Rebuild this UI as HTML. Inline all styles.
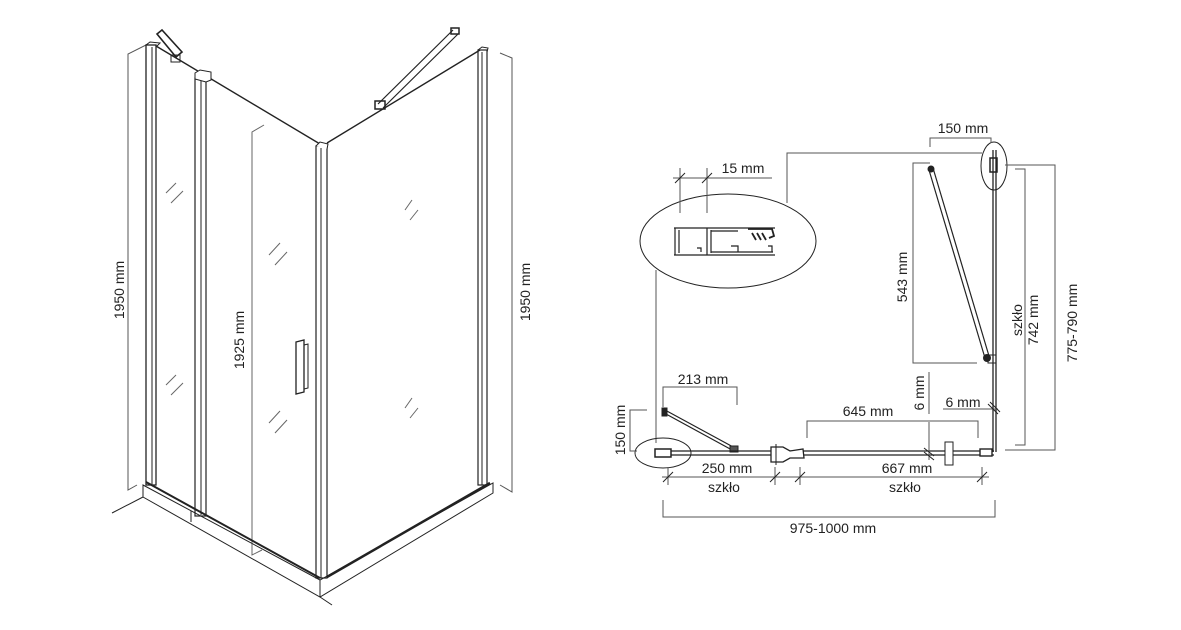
<!DOCTYPE html>
<html><head><meta charset="utf-8"><style>
html,body{margin:0;padding:0;background:#fff;width:1181px;height:630px;overflow:hidden}
text{font-family:"Liberation Sans",sans-serif;font-size:14px;fill:#222}
</style></head><body>
<svg width="1181" height="630" viewBox="0 0 1181 630" xmlns="http://www.w3.org/2000/svg">
<g stroke="#222" fill="none" stroke-width="1">
<!-- LEFT 3D drawing -->
<!-- left dim -->
<polyline points="148,44 128,54 128,490 137,485" stroke="#555"/>
<text x="0" y="0" transform="translate(124,290) rotate(-90)" text-anchor="middle" stroke="none">1950 mm</text>
<!-- left post -->
<rect x="146" y="45" width="10" height="440" stroke-width="1.3"/>
<line x1="152" y1="47" x2="152" y2="485"/>
<path d="M146,45 L150,42 L160,43 L156,47" />
<!-- hinge bracket -->
<path d="M157,34 L162,30 L182,52 L176,57 Z" stroke-width="1.6"/>
<rect x="171" y="55" width="9" height="7"/>
<!-- top rail left panel -->
<line x1="156" y1="46" x2="320" y2="144" stroke-width="1.4"/>
<!-- second post -->
<rect x="195" y="78" width="11" height="438" stroke-width="1.2"/>
<line x1="201" y1="80" x2="201" y2="515"/>
<path d="M195,73 L200,70 L211,72 L211,80 L206,82 L195,79 Z" fill="#fff"/>
<!-- 1925 dim -->
<polyline points="264,125 252,132 252,555 262,550" stroke="#666"/>
<text transform="translate(244,340) rotate(-90)" text-anchor="middle" stroke="none">1925 mm</text>
<!-- corner post -->
<rect x="316" y="146" width="11" height="432" stroke-width="1.2"/>
<line x1="321" y1="148" x2="321" y2="578"/>
<path d="M316,146 L320,142 L328,144 L327,149" fill="#fff"/>
<!-- right panel top -->
<line x1="327" y1="143" x2="480" y2="50" stroke-width="1.4"/>
<!-- right strut -->
<line x1="378" y1="104" x2="453" y2="30" stroke-width="1.2"/>
<line x1="383" y1="108" x2="458" y2="34" stroke-width="1.2"/>
<rect x="375" y="101" width="10" height="8" stroke-width="1.5"/>
<rect x="451" y="28" width="8" height="6" stroke-width="1.5"/>
<!-- right post -->
<rect x="478" y="50" width="9" height="435" stroke-width="1.2"/>
<line x1="482" y1="52" x2="482" y2="485"/>
<path d="M478,50 L482,47 L488,48 L487,52"/>
<!-- right dim -->
<polyline points="500,53 512,58 512,492 500,485" stroke="#555"/>
<text transform="translate(530,292) rotate(-90)" text-anchor="middle" stroke="none">1950 mm</text>
<!-- handle -->
<path d="M296,342 L304,340 L304,392 L296,394 Z" stroke-width="1.3"/>
<path d="M304,345 L308,344 L308,388 L304,389"/>
<!-- tray -->
<path d="M143,485 L320,580 L493,483 L493,493 L320,597 L143,497 Z"/>
<line x1="320" y1="580" x2="320" y2="597"/>
<line x1="191" y1="511" x2="191" y2="522"/>
<line x1="146" y1="482" x2="320" y2="578" stroke-width="2"/>
<line x1="327" y1="577" x2="490" y2="483" stroke-width="2.5"/>
<line x1="112" y1="513" x2="143" y2="497"/>
<line x1="320" y1="597" x2="332" y2="605"/>
<!-- glass hatch -->
<g stroke="#666">
<line x1="166" y1="193" x2="176" y2="183"/><line x1="171" y1="203" x2="183" y2="191"/>
<line x1="166" y1="385" x2="176" y2="375"/><line x1="171" y1="395" x2="183" y2="383"/>
<line x1="269" y1="255" x2="280" y2="243"/><line x1="275" y1="265" x2="287" y2="252"/>
<line x1="269" y1="423" x2="280" y2="411"/><line x1="275" y1="433" x2="287" y2="420"/>
<line x1="405" y1="210" x2="412" y2="200"/><line x1="410" y1="220" x2="418" y2="210"/>
<line x1="405" y1="408" x2="412" y2="398"/><line x1="410" y1="418" x2="418" y2="408"/>
</g>

<!-- RIGHT PLAN -->
<ellipse cx="728" cy="241" rx="88" ry="47"/>
<polyline points="787,203 787,153 982,153" stroke="#555"/>
<ellipse cx="994" cy="166" rx="13" ry="24"/>
<polyline points="930,147 930,138 991,138 991,143" stroke="#555"/>
<text x="963" y="133" text-anchor="middle" stroke="none">150 mm</text>
<!-- right wall glass -->
<line x1="993" y1="150" x2="993" y2="452" stroke-width="1.3"/>
<line x1="996" y1="150" x2="996" y2="452" stroke-width="1.3"/>
<rect x="990" y="158" width="7" height="14" stroke-width="1.5"/>
<!-- 15 mm -->
<line x1="680" y1="168" x2="680" y2="213" stroke="#555"/>
<line x1="707" y1="168" x2="707" y2="213" stroke="#555"/>
<line x1="673" y1="178" x2="772" y2="178" stroke="#555"/>
<line x1="675" y1="183" x2="685" y2="173"/><line x1="702" y1="183" x2="712" y2="173"/>
<text x="743" y="173" text-anchor="middle" stroke="none">15 mm</text>
<!-- profile -->
<path d="M674,228 L775,228 M674,255 L775,255 M675,228 L675,255 M679,230 L679,253 M707,228 L707,255 M711,230 L711,253 M711,231 L738,231 M711,252 L773,252 M697,248 L701,248 L701,252 M731,246 L738,246 L738,252 M768,246 L772,246 L772,252" stroke-width="1.2"/>
<path d="M748,229 L772,229 L774,236 L769,238 M752,233 L756,240 M757,233 L761,240 M762,233 L766,240" stroke-width="1.8"/>
<!-- left connector -->
<line x1="656" y1="270" x2="656" y2="443" stroke="#555"/>
<ellipse cx="663" cy="453" rx="28" ry="15"/>
<!-- 150 left -->
<polyline points="647,410 630,410 630,451 637,451" stroke="#555"/>
<text transform="translate(625,430) rotate(-90)" text-anchor="middle" stroke="none">150 mm</text>
<!-- 213 -->
<polyline points="663,407 663,387 737,387 737,405" stroke="#555"/>
<text x="703" y="384" text-anchor="middle" stroke="none">213 mm</text>
<line x1="665" y1="410" x2="735" y2="448" stroke-width="1.2"/>
<line x1="666" y1="414" x2="732" y2="450" stroke-width="1.2"/>
<rect x="662" y="408" width="5" height="8" fill="#222"/>
<rect x="730" y="446" width="8" height="6" fill="#555"/>
<!-- main bottom glass -->
<line x1="657" y1="451" x2="994" y2="451" stroke-width="1.3"/>
<line x1="657" y1="455" x2="994" y2="455" stroke-width="1.3"/>
<rect x="655" y="449" width="16" height="8" fill="#fff" stroke-width="1.5"/>
<path d="M771,447 L783,447 L790,451 L803,449 L804,458 L790,458 L783,462 L771,462 Z" fill="#fff" stroke-width="1.3"/>
<line x1="776" y1="444" x2="776" y2="465"/>
<rect x="945" y="442" width="8" height="23" fill="#fff"/>
<rect x="980" y="449" width="12" height="7" fill="#fff" stroke-width="1.4"/>
<!-- 645 -->
<polyline points="807,438 807,421 978,421 978,438" stroke="#555"/>
<text x="868" y="416" text-anchor="middle" stroke="none">645 mm</text>
<!-- 6mm vertical -->
<line x1="929" y1="372" x2="929" y2="414" stroke="#555"/>
<line x1="929" y1="422" x2="929" y2="460" stroke="#555"/>
<line x1="924" y1="448" x2="934" y2="456"/><line x1="924" y1="452" x2="934" y2="460"/>
<text transform="translate(924,393) rotate(-90)" text-anchor="middle" stroke="none">6 mm</text>
<!-- 6mm horizontal -->
<line x1="943" y1="409" x2="998" y2="409" stroke="#555"/>
<line x1="988" y1="404" x2="998" y2="414"/><line x1="990" y1="402" x2="1000" y2="412"/>
<text x="963" y="407" text-anchor="middle" stroke="none">6 mm</text>
<!-- dim line 477 -->
<line x1="662" y1="477" x2="989" y2="477" stroke="#555"/>
<g stroke="#555">
<line x1="668" y1="467" x2="668" y2="485"/><line x1="775" y1="467" x2="775" y2="485"/>
<line x1="800" y1="467" x2="800" y2="485"/><line x1="982" y1="467" x2="982" y2="485"/>
</g>
<line x1="663" y1="482" x2="673" y2="472"/><line x1="770" y1="482" x2="780" y2="472"/>
<line x1="795" y1="482" x2="805" y2="472"/><line x1="977" y1="482" x2="987" y2="472"/>
<text x="727" y="473" text-anchor="middle" stroke="none">250 mm</text>
<text x="907" y="473" text-anchor="middle" stroke="none">667 mm</text>
<text x="724" y="492" text-anchor="middle" stroke="none">szkło</text>
<text x="905" y="492" text-anchor="middle" stroke="none">szkło</text>
<!-- 975-1000 -->
<polyline points="663,500 663,517 995,517 995,500" stroke="#555"/>
<text x="833" y="533" text-anchor="middle" stroke="none">975-1000 mm</text>
<!-- 543 -->
<polyline points="930,163 913,163 913,363 977,363" stroke="#555"/>
<text transform="translate(907,277) rotate(-90)" text-anchor="middle" stroke="none">543 mm</text>
<line x1="929" y1="170" x2="985" y2="358" stroke-width="1.2"/>
<line x1="933" y1="168" x2="989" y2="356" stroke-width="1.2"/>
<circle cx="931" cy="169" r="3" fill="#222"/>
<circle cx="987" cy="358" r="3.5" fill="#222"/>
<rect x="988" y="355" width="8" height="8"/>
<!-- 742 -->
<polyline points="1015,169 1025,169 1025,445 1015,445" stroke="#555"/>
<text transform="translate(1022,320) rotate(-90)" text-anchor="middle" stroke="none">szkło</text>
<text transform="translate(1038,320) rotate(-90)" text-anchor="middle" stroke="none">742 mm</text>
<!-- 775-790 -->
<polyline points="1005,165 1055,165 1055,450 1005,450" stroke="#555"/>
<text transform="translate(1077,323) rotate(-90)" text-anchor="middle" stroke="none">775-790 mm</text>
</g>
</svg>
</body></html>
